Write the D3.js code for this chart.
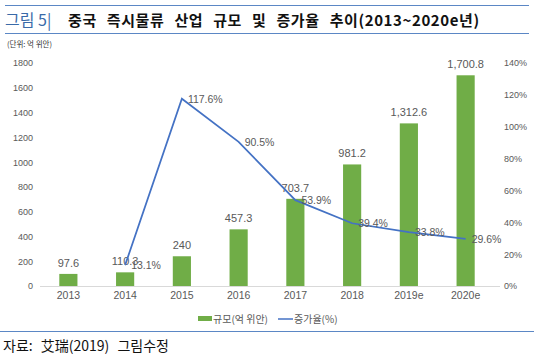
<!DOCTYPE html>
<html>
<head>
<meta charset="utf-8">
<script src="https://cdn.jsdelivr.net/npm/d3@7"></script>
<style>
  body { margin: 0; background: #fff; }
  svg { font-family: "Noto Sans CJK KR", "Noto Sans", sans-serif; }
</style>
</head>
<body>
<div id="chart"></div>
<script>
// Data
var years = ["2013", "2014", "2015", "2016", "2017", "2018", "2019e", "2020e"];
var scale = [97.6, 110.3, 240, 457.3, 703.7, 981.2, 1312.6, 1700.8];
var scaleLabels = ["97.6", "110.3", "240", "457.3", "703.7", "981.2", "1,312.6", "1,700.8"];
var growth = [null, 13.1, 117.6, 90.5, 53.9, 39.4, 33.8, 29.6];
var leftTicks = [0, 200, 400, 600, 800, 1000, 1200, 1400, 1600, 1800];
var rightTicks = [0, 20, 40, 60, 80, 100, 120, 140];

var width = 534, height = 362;
var svg = d3.select("#chart").append("svg")
    .attr("width", width)
    .attr("height", height);

var blue = "#4472c4", green = "#70ad47", grey = "#595959";

// frame lines and title
svg.append("line").attr("x1", 5).attr("x2", 529).attr("y1", 5.5).attr("y2", 5.5)
    .attr("stroke", "#5b87c5").attr("stroke-width", 1);
svg.append("line").attr("x1", 5).attr("x2", 529).attr("y1", 33.5).attr("y2", 33.5)
    .attr("stroke", "#5b87c5").attr("stroke-width", 1);
svg.append("line").attr("x1", 0).attr("x2", 534).attr("y1", 331.5).attr("y2", 331.5)
    .attr("stroke", "#5b87c5").attr("stroke-width", 1);

var title = svg.append("text").attr("x", 5).attr("y", 26)
    .style("font-size", "15px");
title.append("tspan").attr("fill", "#3a6aa8").style("font-size", "16px").text("그림 5|");
title.append("tspan").attr("x", 68).attr("fill", "#111").attr("font-weight", "bold")
    .style("word-spacing", "6px").style("letter-spacing", "0.6px")
    .text("중국 즉시물류 산업 규모 및 증가율 추이(2013~2020e년)");

svg.append("text").attr("x", 7).attr("y", 47)
    .style("font-size", "7.5px").attr("fill", "#333").text("(단위: 억 위안)");

// scales
var x = d3.scaleBand().domain(years).range([40, 494]).paddingInner(0.68).paddingOuter(0.34);
var yL = d3.scaleLinear().domain([0, 1800]).range([286, 63]);
var yR = d3.scaleLinear().domain([0, 140]).range([286, 63]);

// axes
var axL = svg.append("g").attr("transform", "translate(33,0)")
    .call(d3.axisLeft(yL).tickValues(leftTicks).tickSize(0).tickPadding(0).tickFormat(d3.format("d")));
var axR = svg.append("g").attr("transform", "translate(504,0)")
    .call(d3.axisRight(yR).tickValues(rightTicks).tickSize(0).tickPadding(0).tickFormat(function(d) { return d + "%"; }));
[axL, axR].forEach(function(a) {
  a.select(".domain").remove();
  a.selectAll("text").attr("fill", grey).style("font-size", "9px")
    .style("font-family", "'Liberation Sans', Arial, sans-serif");
});

svg.append("line").attr("x1", 40).attr("x2", 500).attr("y1", 286.5).attr("y2", 286.5)
    .attr("stroke", "#d9d9d9");

var axX = svg.append("g").attr("transform", "translate(0,287)")
    .call(d3.axisBottom(x).tickSize(0).tickPadding(5));
axX.select(".domain").remove();
axX.selectAll("text").attr("fill", grey).style("font-size", "10.5px")
    .style("font-family", "'Liberation Sans', Arial, sans-serif");

// bars
svg.selectAll(".bar").data(scale).enter().append("rect")
    .attr("class", "bar")
    .attr("x", function(d, i) { return x(years[i]); })
    .attr("width", x.bandwidth())
    .attr("y", function(d) { return yL(d); })
    .attr("height", function(d) { return yL(0) - yL(d); })
    .attr("fill", green);

svg.selectAll(".blabel").data(scale).enter().append("text")
    .attr("x", function(d, i) { return x(years[i]) + x.bandwidth() / 2; })
    .attr("y", function(d) { return yL(d) - 7; })
    .attr("text-anchor", "middle")
    .attr("fill", grey)
    .style("font-size", "11px")
    .style("font-family", "'Liberation Sans', Arial, sans-serif")
    .text(function(d, i) { return scaleLabels[i]; });

// growth line
var pts = growth.map(function(g, i) { return { year: years[i], v: g }; }).filter(function(d) { return d.v != null; });
var line = d3.line()
    .x(function(d) { return x(d.year) + x.bandwidth() / 2; })
    .y(function(d) { return yR(d.v); });
svg.append("path").datum(pts)
    .attr("d", line)
    .attr("fill", "none")
    .attr("stroke", blue)
    .attr("stroke-width", 1.75);

svg.selectAll(".glabel").data(pts).enter().append("text")
    .attr("x", function(d) { return x(d.year) + x.bandwidth() / 2 + 6; })
    .attr("y", function(d) { return yR(d.v) + 4; })
    .attr("fill", grey)
    .style("font-size", "10.5px")
    .style("font-family", "'Liberation Sans', Arial, sans-serif")
    .text(function(d) { return d.v.toFixed(1) + "%"; });

// legend
var lg = svg.append("g").attr("transform", "translate(0,319)");
lg.append("rect").attr("x", 198).attr("y", -3).attr("width", 14).attr("height", 5).attr("fill", green);
lg.append("text").attr("x", 213).attr("y", 3.5).attr("fill", grey).style("font-size", "10px").text("규모(억 위안)");
lg.append("line").attr("x1", 278).attr("x2", 293).attr("y1", 0).attr("y2", 0).attr("stroke", blue).attr("stroke-width", 1.5);
lg.append("text").attr("x", 294).attr("y", 3.5).attr("fill", grey).style("font-size", "10px").text("증가율(%)");

// source
svg.append("text").attr("x", 3).attr("y", 351).attr("fill", "#111")
    .style("font-size", "14px").style("word-spacing", "5px").text("자료: 艾瑞(2019) 그림수정");
</script>
</body>
</html>
